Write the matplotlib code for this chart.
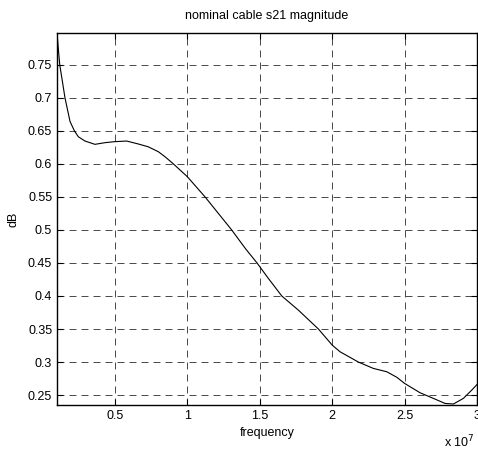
import matplotlib
matplotlib.use('Agg')
import matplotlib.pyplot as plt
from matplotlib.ticker import FuncFormatter

# frequency in Hz, magnitude in dB
freq = [1.00e6, 1.10e6, 1.19e6, 1.55e6, 1.90e6, 2.20e6, 2.47e6, 2.93e6, 3.62e6, 4.31e6,
        4.96e6, 5.81e6, 6.62e6, 7.30e6, 8.00e6, 8.46e6, 9.03e6, 1.000e7, 1.122e7,
        1.306e7, 1.400e7, 1.481e7, 1.559e7, 1.652e7, 1.766e7, 1.905e7, 2.000e7,
        2.054e7, 2.181e7, 2.284e7, 2.377e7, 2.446e7, 2.500e7, 2.607e7, 2.699e7,
        2.779e7, 2.837e7, 2.906e7, 2.964e7, 3.000e7]
mag = [0.798, 0.772, 0.750, 0.700, 0.664, 0.650, 0.641, 0.6345, 0.6295, 0.632,
       0.6335, 0.6345, 0.630, 0.6258, 0.6183, 0.6107, 0.600, 0.5805, 0.550,
       0.500, 0.472, 0.450, 0.4267, 0.400, 0.3787, 0.350, 0.3257,
       0.3156, 0.300, 0.2904, 0.2853, 0.277, 0.2677, 0.2535, 0.245,
       0.2374, 0.2365, 0.245, 0.2576, 0.266]

xticks = [0.5e7, 1e7, 1.5e7, 2e7, 2.5e7, 3e7]
yticks = [0.25, 0.3, 0.35, 0.4, 0.45, 0.5, 0.55, 0.6, 0.65, 0.7, 0.75]

plt.rcParams['font.family'] = ['Liberation Sans', 'DejaVu Sans']
plt.rcParams['font.size'] = 9

fig = plt.figure(figsize=(4.78, 4.49), dpi=100)
ax = fig.add_axes([57/478, 44/449, 420/478, 372/449])

ax.plot(freq, mag, color='black', linewidth=0.8)
ax.set_xlim(1e6, 3e7)
ax.set_ylim(0.235, 0.798)
ax.set_xticks(xticks)
ax.set_yticks(yticks)
ax.xaxis.set_major_formatter(FuncFormatter(lambda v, p: '%g' % (v / 1e7)))
ax.yaxis.set_major_formatter(FuncFormatter(lambda v, p: '%g' % v))

ax.grid(True, color='0.3', linestyle=(0, (7, 5)), linewidth=0.72)
ax.tick_params(direction='in', top=True, right=True, length=4, width=0.8, labelsize=9)
for s in ax.spines.values():
    s.set_linewidth(1.0)

ax.set_title('nominal cable s21 magnitude', fontsize=9, pad=10)
ax.set_xlabel('frequency', fontsize=9, labelpad=4)
ax.set_ylabel('dB', fontsize=9, labelpad=6)
fig.text(444/478, 1 - 442/449, 'x 10$^7$', fontsize=9, va='center', ha='left')

fig.savefig('out.png', dpi=100)
